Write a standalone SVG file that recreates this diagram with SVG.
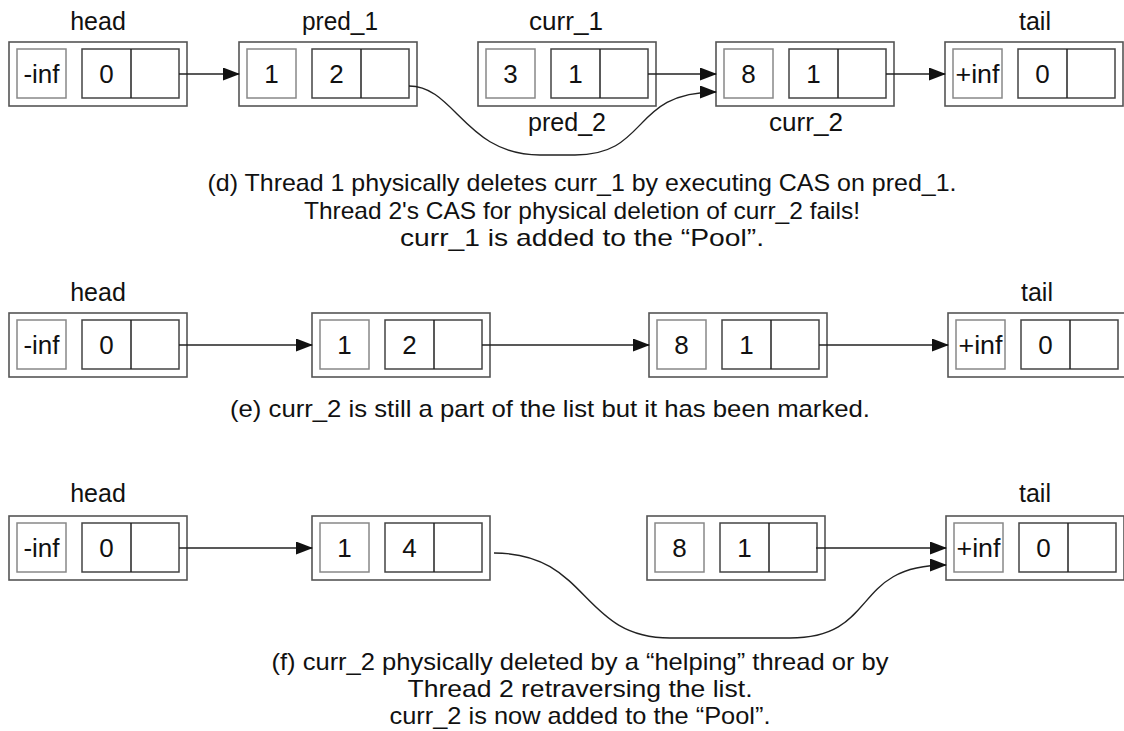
<svg xmlns="http://www.w3.org/2000/svg" width="1124" height="731" viewBox="0 0 1124 731">
<style>
.bg{fill:#fff}
.outer{fill:#fff;stroke:#555;stroke-width:1.6}
.key{fill:#fff;stroke:#888;stroke-width:1.5}
.val{fill:#fff;stroke:#444;stroke-width:1.5}
.div{stroke:#222;stroke-width:1.5}
text{font-family:"Liberation Sans",Arial,sans-serif;fill:#111}
.t{font-size:26px;text-anchor:middle}
.lbl{font-size:25px;text-anchor:middle}
.cap{font-size:24px;text-anchor:middle}
.edge{fill:none;stroke:#222;stroke-width:1.4}
</style>
<defs>
<marker id="ah" markerUnits="userSpaceOnUse" markerWidth="17" markerHeight="13" refX="16" refY="6.5" orient="auto">
<path d="M0,0 L17,6.5 L0,13 Z" fill="#111"/>
</marker>
<g id="nodeshape">
<rect class="outer" x="0" y="0" width="178" height="64"/>
<rect class="key" x="8" y="7" width="49" height="49"/>
<rect class="val" x="73" y="7" width="97" height="49"/>
<line class="div" x1="122" y1="7" x2="122" y2="56"/>
</g>
</defs>
<rect class="bg" x="0" y="0" width="1124" height="731"/>

<!-- Row d -->
<g id="d-head" transform="translate(9,42)"><use href="#nodeshape"/><text class="t" x="32.5" y="41">-inf</text><text class="t" x="97.5" y="41">0</text></g>
<g id="d-pred1" transform="translate(239,42)"><use href="#nodeshape"/><text class="t" x="32.5" y="41">1</text><text class="t" x="97.5" y="41">2</text></g>
<g id="d-curr1" transform="translate(478,42)"><use href="#nodeshape"/><text class="t" x="32.5" y="41">3</text><text class="t" x="97.5" y="41">1</text></g>
<g id="d-curr2" transform="translate(716,42)"><use href="#nodeshape"/><text class="t" x="32.5" y="41">8</text><text class="t" x="97.5" y="41">1</text></g>
<g id="d-tail" transform="translate(945,42)"><use href="#nodeshape"/><text class="t" x="32.5" y="41" textLength="44" lengthAdjust="spacingAndGlyphs">+inf</text><text class="t" x="97.5" y="41">0</text></g>
<g id="d-labels">
<text class="lbl" x="98" y="30">head</text>
<text class="lbl" x="340" y="30" textLength="76" lengthAdjust="spacingAndGlyphs">pred_1</text>
<text class="lbl" x="566" y="30" textLength="74" lengthAdjust="spacingAndGlyphs">curr_1</text>
<text class="lbl" x="1035" y="30">tail</text>
<text class="lbl" x="567" y="131" textLength="78" lengthAdjust="spacingAndGlyphs">pred_2</text>
<text class="lbl" x="806" y="131" textLength="74" lengthAdjust="spacingAndGlyphs">curr_2</text>
</g>

<!-- Row e -->
<g id="e-head" transform="translate(9,313)"><use href="#nodeshape"/><text class="t" x="32.5" y="41">-inf</text><text class="t" x="97.5" y="41">0</text></g>
<g id="e-n1" transform="translate(312,313)"><use href="#nodeshape"/><text class="t" x="32.5" y="41">1</text><text class="t" x="97.5" y="41">2</text></g>
<g id="e-n2" transform="translate(649,313)"><use href="#nodeshape"/><text class="t" x="32.5" y="41">8</text><text class="t" x="97.5" y="41">1</text></g>
<g id="e-tail" transform="translate(948,313)"><use href="#nodeshape"/><text class="t" x="32.5" y="41" textLength="44" lengthAdjust="spacingAndGlyphs">+inf</text><text class="t" x="97.5" y="41">0</text></g>
<g id="e-labels">
<text class="lbl" x="98" y="301">head</text>
<text class="lbl" x="1037" y="301">tail</text>
</g>

<!-- Row f -->
<g id="f-head" transform="translate(9,516)"><use href="#nodeshape"/><text class="t" x="32.5" y="41">-inf</text><text class="t" x="97.5" y="41">0</text></g>
<g id="f-n1" transform="translate(312,516)"><use href="#nodeshape"/><text class="t" x="32.5" y="41">1</text><text class="t" x="97.5" y="41">4</text></g>
<g id="f-n2" transform="translate(647,516)"><use href="#nodeshape"/><text class="t" x="32.5" y="41">8</text><text class="t" x="97.5" y="41">1</text></g>
<g id="f-tail" transform="translate(946,516)"><use href="#nodeshape"/><text class="t" x="32.5" y="41" textLength="44" lengthAdjust="spacingAndGlyphs">+inf</text><text class="t" x="97.5" y="41">0</text></g>
<g id="f-labels">
<text class="lbl" x="98" y="502">head</text>
<text class="lbl" x="1035" y="502">tail</text>
</g>

<!-- Connectors -->
<g id="connectors">
<line class="edge" x1="179" y1="74" x2="239" y2="74" marker-end="url(#ah)"/>
<line class="edge" x1="648" y1="74" x2="716" y2="74" marker-end="url(#ah)"/>
<line class="edge" x1="886" y1="74" x2="945" y2="74" marker-end="url(#ah)"/>
<path class="edge" d="M409,86 C455,86 465,155 540,155 L575,155 C650,155 630,92 716,92" marker-end="url(#ah)"/>

<line class="edge" x1="179" y1="345" x2="312" y2="345" marker-end="url(#ah)"/>
<line class="edge" x1="482" y1="345" x2="649" y2="345" marker-end="url(#ah)"/>
<line class="edge" x1="819" y1="345" x2="948" y2="345" marker-end="url(#ah)"/>

<line class="edge" x1="179" y1="548" x2="312" y2="548" marker-end="url(#ah)"/>
<line class="edge" x1="816" y1="548" x2="946" y2="548" marker-end="url(#ah)"/>
<path class="edge" d="M494,553 C590,553 580,638 670,638 L790,638 C880,638 850,565 946,565" marker-end="url(#ah)"/>
</g>

<!-- Captions -->
<g id="captions">
<text class="cap" x="582" y="191" textLength="749" lengthAdjust="spacingAndGlyphs">(d) Thread 1 physically deletes curr_1 by executing CAS on pred_1.</text>
<text class="cap" x="582" y="219" textLength="556" lengthAdjust="spacingAndGlyphs">Thread 2's CAS for physical deletion of curr_2 fails!</text>
<text class="cap" x="582" y="246" textLength="364" lengthAdjust="spacingAndGlyphs">curr_1 is added to the “Pool”.</text>
<text class="cap" x="550" y="417" textLength="640" lengthAdjust="spacingAndGlyphs">(e) curr_2 is still a part of the list but it has been marked.</text>
<text class="cap" x="580" y="670" textLength="617" lengthAdjust="spacingAndGlyphs">(f) curr_2 physically deleted by a “helping” thread or by</text>
<text class="cap" x="580" y="697" textLength="345" lengthAdjust="spacingAndGlyphs">Thread 2 retraversing the list.</text>
<text class="cap" x="580" y="724" textLength="381" lengthAdjust="spacingAndGlyphs">curr_2 is now added to the “Pool”.</text>
</g>
</svg>
